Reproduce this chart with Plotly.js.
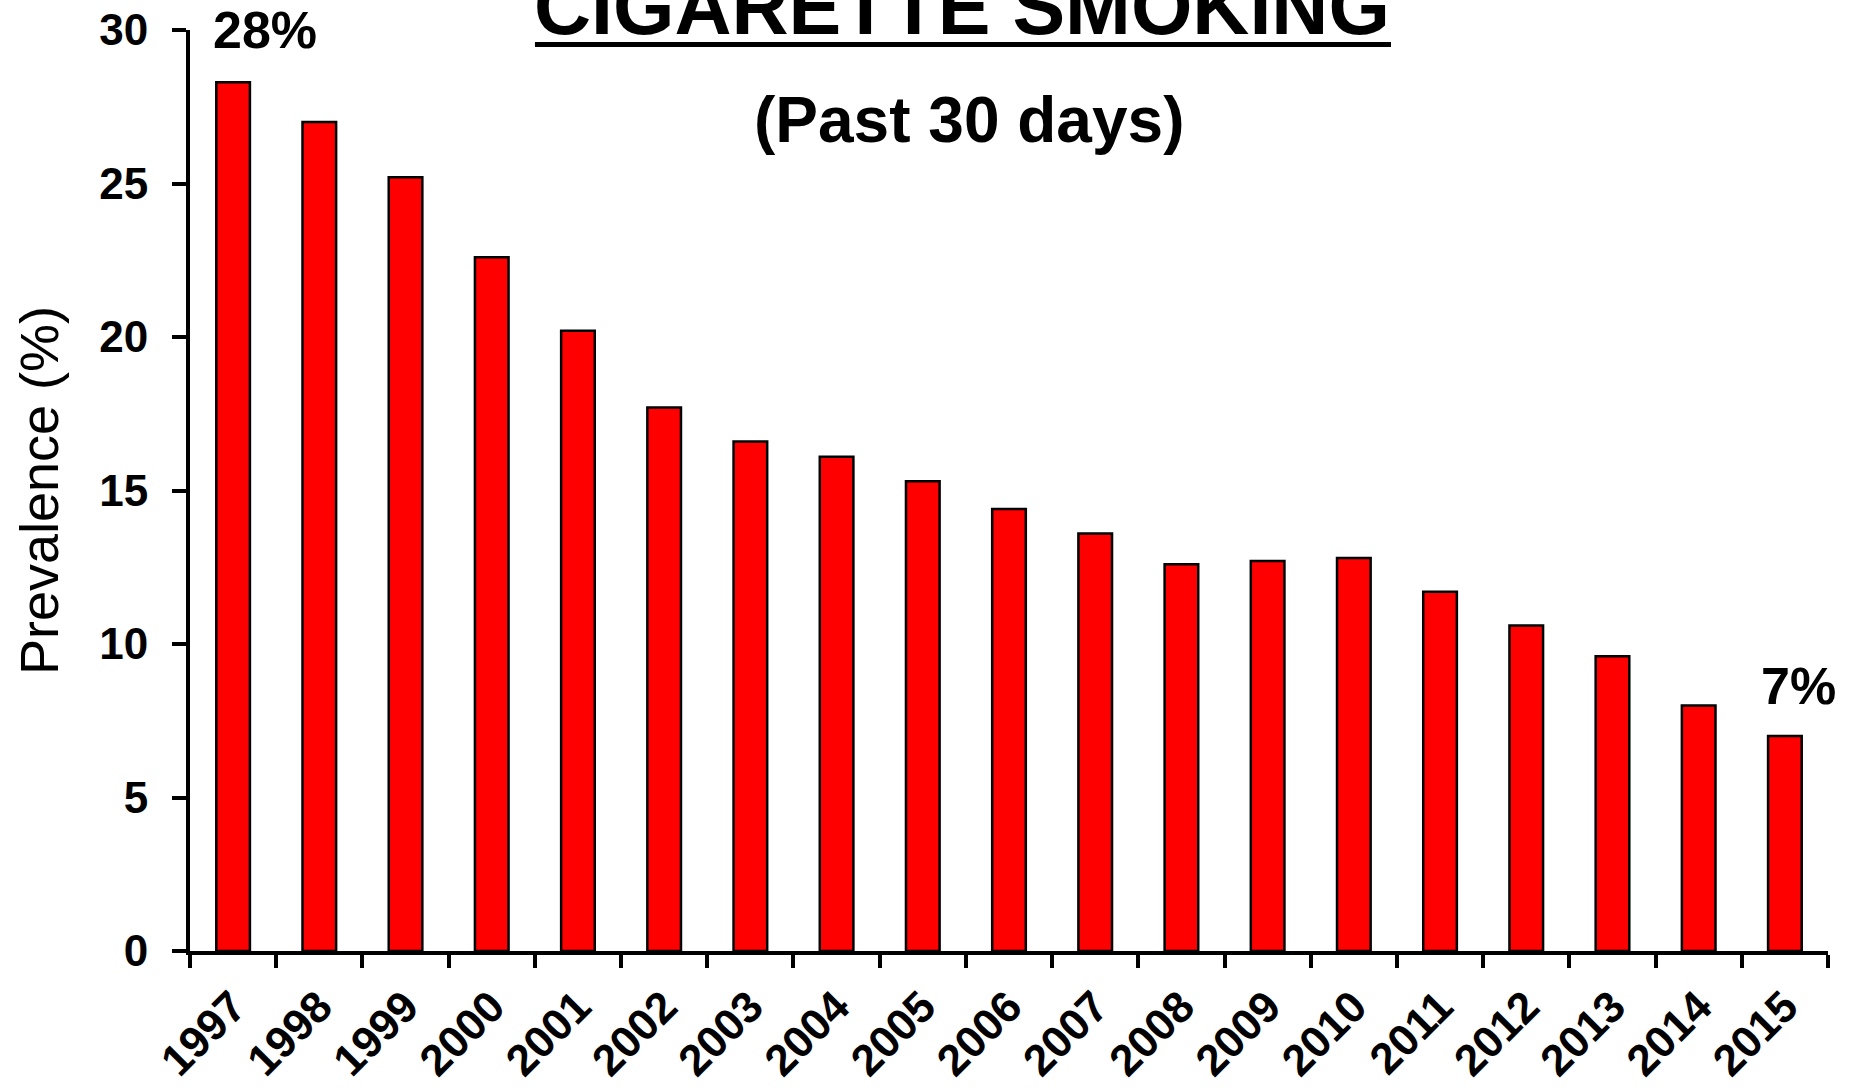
<!DOCTYPE html>
<html>
<head>
<meta charset="utf-8">
<script src="https://cdn.plot.ly/plotly-3.0.1.min.js"></script>
<style>
  html, body { margin: 0; padding: 0; background: #ffffff; }
  #chart { width: 1852px; height: 1088px; }
</style>
</head>
<body>
<div id="chart"></div>
<script>
// ---- data ----
const years = ['1997','1998','1999','2000','2001','2002','2003','2004','2005','2006',
               '2007','2008','2009','2010','2011','2012','2013','2014','2015'];
const prevalence = [28.3, 27.0, 25.2, 22.6, 20.2, 17.7, 16.6, 16.1, 15.3, 14.4,
                    13.6, 12.6, 12.7, 12.8, 11.7, 10.6, 9.6, 8.0, 7.0];
const yTickValues = [0, 5, 10, 15, 20, 25, 30];
const highlightYears = ['1997', '2015'];
const highlightLabels = ['28%', '7%'];
const titleText = 'CIGARETTE SMOKING';
const subtitleText = '(Past 30 days)';
const yTitleText = 'Prevalence (%)';

const FONT = 'Liberation Sans, Arial, Helvetica, sans-serif';

const trace = {
  type: 'bar',
  x: years,
  y: prevalence,
  width: 0.39,
  marker: { color: '#ff0000', line: { color: '#000000', width: 2.5 } },
  hoverinfo: 'x+y'
};

const annotations = [
  {
    xref: 'paper', yref: 'paper', x: 0.4713, y: 1.0250,
    xanchor: 'center', yanchor: 'middle', showarrow: false,
    text: '<b>' + titleText + '</b>',
    font: { family: FONT, size: 79, color: '#000000' }
  },
  {
    xref: 'paper', yref: 'paper', x: 0.4756, y: 0.9023,
    xanchor: 'center', yanchor: 'middle', showarrow: false,
    text: '<b>' + subtitleText + '</b>',
    font: { family: FONT, size: 64, color: '#000000' }
  }
];
const shifts = [[32, 52], [13.5, 50]];
highlightYears.forEach(function (yr, i) {
  const idx = years.indexOf(yr);
  annotations.push({
    xref: 'x', yref: 'y', x: idx, y: prevalence[idx],
    xshift: shifts[i][0], yshift: shifts[i][1],
    xanchor: 'center', yanchor: 'middle', showarrow: false,
    text: '<b>' + highlightLabels[i] + '</b>',
    font: { family: FONT, size: 52, color: '#000000' }
  });
});

const layout = {
  width: 1852,
  height: 1088,
  margin: { l: 190, r: 24, t: 30, b: 137, pad: 0 },
  paper_bgcolor: '#ffffff',
  plot_bgcolor: '#ffffff',
  showlegend: false,
  xaxis: {
    type: 'category',
    range: [-0.5, 18.5],
    showgrid: false,
    zeroline: false,
    showline: true,
    linecolor: '#000000',
    linewidth: 4,
    ticks: 'outside',
    tickson: 'boundaries',
    ticklen: 13,
    tickwidth: 4,
    tickcolor: '#000000',
    tickangle: -45,
    ticklabelstandoff: 8,
    tickfont: { family: FONT, size: 44, color: '#000000', weight: 'bold' },
    automargin: false,
    fixedrange: true
  },
  yaxis: {
    range: [0, 30],
    tickvals: yTickValues,
    ticktext: yTickValues.map(String),
    showgrid: false,
    zeroline: false,
    showline: true,
    linecolor: '#000000',
    linewidth: 4,
    ticks: 'outside',
    ticklen: 14,
    tickwidth: 4,
    tickcolor: '#000000',
    ticklabelstandoff: 15,
    tickfont: { family: FONT, size: 44, color: '#000000', weight: 'bold' },
    title: {
      text: yTitleText,
      font: { family: FONT, size: 54, color: '#000000' },
      standoff: 24
    },
    automargin: false,
    fixedrange: true
  },
  annotations: annotations,
  shapes: [
    {
      type: 'line', xref: 'paper', yref: 'paper',
      x0: 0.2106, x1: 0.7332, y0: 0.9843, y1: 0.9843,
      line: { color: '#000000', width: 5 }
    }
  ]
};

Plotly.newPlot('chart', [trace], layout, { displayModeBar: false, staticPlot: true });
</script>
</body>
</html>
